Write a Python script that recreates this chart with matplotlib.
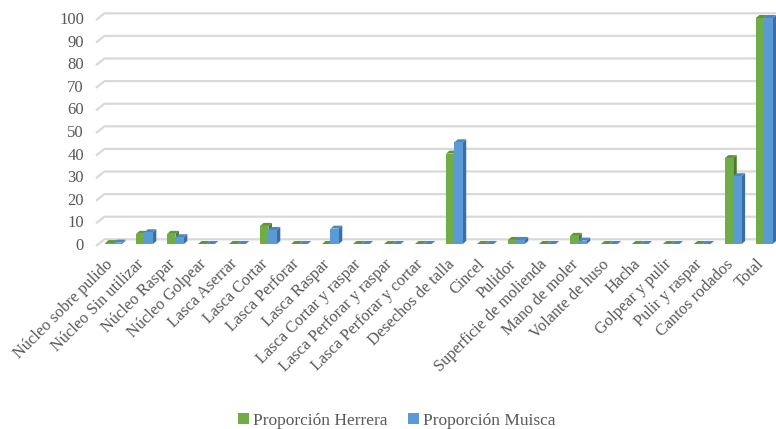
import matplotlib
matplotlib.use("Agg")
import matplotlib.pyplot as plt
from matplotlib.patches import Polygon, Patch
import numpy as np

categories = ["Núcleo sobre pulido", "Núcleo Sin utilizar", "Núcleo Raspar", "Núcleo Golpear",
              "Lasca Aserrar", "Lasca Cortar", "Lasca Perforar", "Lasca Raspar",
              "Lasca Cortar y raspar", "Lasca Perforar y raspar", "Lasca Perforar y cortar",
              "Desechos de talla", "Cincel", "Pulidor", "Superficie de molienda", "Mano de moler",
              "Volante de huso", "Hacha", "Golpear y pulir", "Pulir y raspar", "Cantos rodados", "Total"]
herrera = [0.4, 4.5, 4.5, 0, 0, 8, 0, 0, 0, 0, 0, 40, 0, 1.8, 0, 3.6, 0, 0, 0, 0, 38, 100]
muisca = [0.6, 5.2, 3.0, 0, 0, 6.2, 0, 6.8, 0, 0, 0, 45, 0, 1.8, 0, 1.5, 0, 0, 0, 0, 30, 100]
series_names = ["Proporción Herrera", "Proporción Muisca"]
yticks = list(range(0, 101, 10))

W, H, DPI = 7.76, 4.29, 100
text_color = "#595959"
grid_color = "#D9D9D9"
front_colors = ["#70AD47", "#5B9BD5"]
side_colors = ["#4A7A2C", "#3A6EA5"]
top_colors = ["#5E963A", "#4C86C0"]

plt.rcParams["font.family"] = ["Liberation Serif", "DejaVu Serif"]

fig = plt.figure(figsize=(W, H), dpi=DPI)
# plot area in pixels (front plane)
left_px, right_px = 96, 770
top_px, bottom_px = 20, 246
ax = fig.add_axes([left_px / 776, (429 - bottom_px) / 429,
                   (right_px - left_px) / 776, (bottom_px - top_px) / 429])
xmin, xmax = -0.5, 21.25
ax.set_xlim(xmin, xmax)
ax.set_ylim(0, 100)
ax.axis("off")

# pixel -> data unit conversion for the fake depth
ppu_x = (right_px - left_px) / (xmax - xmin)
ppu_y = (bottom_px - top_px) / 100.0
def px(dx, dy):
    return dx / ppu_x, dy / ppu_y

# back wall gridlines with a slanted left end
gdx, gdy = px(8.5, 6.7)
for v in yticks:
    ax.plot([xmin, xmin + gdx, xmax + 1], [v, v + gdy, v + gdy], color=grid_color,
            lw=1.6, clip_on=False, zorder=1, solid_capstyle="butt")
    ax.text(xmin - px(12, 0)[0], v, str(v), ha="right", va="center", fontsize=12,
            color=text_color, transform=ax.transData)

# bars with a small 3d look
x = np.arange(len(categories))
bw = 0.27
bdx, bdy = px(2.0, 2.0)     # bar front offset from front plane
ddx, ddy = px(3.5, 3.0)     # bar depth
for s, vals in enumerate([herrera, muisca]):
    for i, h in enumerate(vals):
        x0 = x[i] - bw + s * bw + bdx
        x1 = x0 + bw
        y0 = bdy
        y1 = h + bdy
        ax.add_patch(Polygon([(x1, y0), (x1 + ddx, y0 + ddy), (x1 + ddx, y1 + ddy), (x1, y1)],
                             closed=True, facecolor=side_colors[s], edgecolor="none",
                             zorder=3 + i * 0.01, clip_on=False))
        ax.add_patch(Polygon([(x0, y1), (x0 + ddx, y1 + ddy), (x1 + ddx, y1 + ddy), (x1, y1)],
                             closed=True, facecolor=top_colors[s], edgecolor="none",
                             zorder=3 + i * 0.01, clip_on=False))
    ax.bar(x - bw / 2 + s * bw + bdx, vals, width=bw, bottom=bdy, color=front_colors[s],
           zorder=4, clip_on=False)

# category labels
for i, c in enumerate(categories):
    ax.text(x[i] - 0.2, -4.5, c, rotation=45, rotation_mode="anchor", ha="right", va="top",
            fontsize=11.8, color=text_color)

handles = [Patch(facecolor=front_colors[k], edgecolor="none") for k in range(2)]
fig.legend(handles, series_names, loc="center", bbox_to_anchor=(397 / 776, 1 - 421 / 429),
           ncol=2, frameon=False, fontsize=12.5, labelcolor=text_color,
           handlelength=0.6, handleheight=0.6, handletextpad=0.25, columnspacing=1.2)

fig.savefig("out.png", dpi=DPI)
